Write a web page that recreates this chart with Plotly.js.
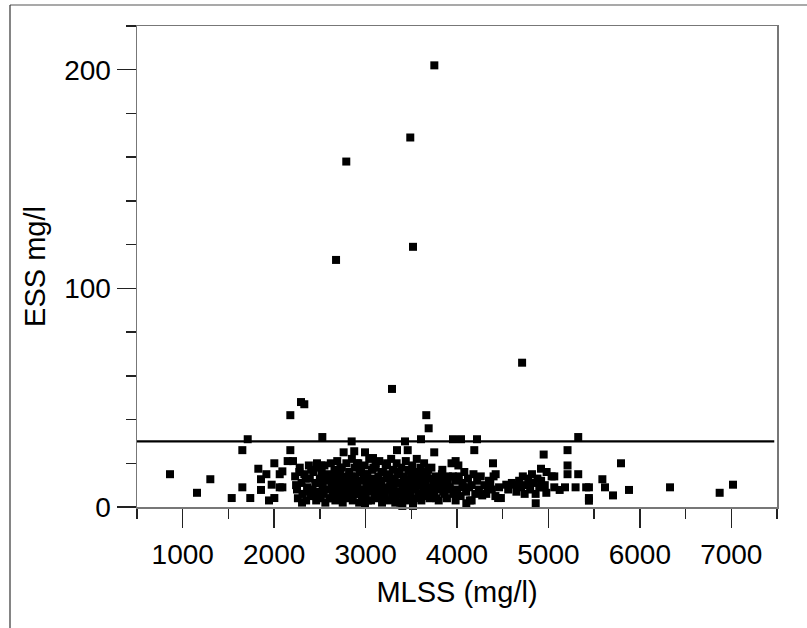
<!DOCTYPE html>
<html>
<head>
<meta charset="utf-8">
<script src="https://cdn.plot.ly/plotly-3.0.1.min.js"></script>
<style>
  html, body { margin: 0; padding: 0; background: #fff; }
  #chart { width: 807px; height: 628px; }
</style>
</head>
<body>
<div id="chart"></div>
<script>
// MLSS (mg/l) values
const mlss = [
  3752, 3489, 2789, 3519, 2677, 4712, 3289, 2294, 2330, 2177, 3664, 3690,
  5326, 2527, 1711, 3606, 3956, 4044, 4219, 3431, 2848, 1652, 2177, 3344,
  3461, 4189, 5209, 2760, 2876, 2994, 3751, 4948, 3081, 2148, 2206, 4015,
  3985, 2002, 2469, 2906, 3110, 4394, 5794, 1827, 2090, 4919, 5209, 4423,
  5326, 5209, 861, 1915, 2061, 1302, 1856, 5590, 1973, 4539, 4627, 7019,
  1652, 2061, 2090, 4072, 4131, 4335, 5619, 5297, 5181, 5064, 4948, 5413,
  5443, 6330, 1856, 5881, 5123, 1156, 4977, 6873, 5706, 4276, 1536, 1739,
  2002, 4450, 4480, 5443, 1944, 4160, 5443, 2994, 4102, 4861, 3402, 3519,
  5064, 5035, 4364,
  // dense cluster
  2230, 2250, 2260, 2280, 2300, 2310, 2330, 2350, 2360, 2380, 2390, 2400,
  2420, 2430, 2450, 2460, 2470, 2490, 2500, 2510,
  2520, 2530, 2540, 2550, 2560, 2570, 2580, 2600, 2610, 2620, 2630, 2640,
  2650, 2660, 2670, 2680, 2690, 2700, 2710, 2720, 2730, 2740, 2750, 2760,
  2770, 2780, 2790, 2800,
  2810, 2820, 2830, 2840, 2850, 2860, 2870, 2880, 2890, 2900, 2910, 2920,
  2930, 2940, 2950, 2960, 2970, 2980, 2990, 3000, 3010, 3020, 3030, 3040,
  3050, 3060, 3070, 3080, 3090, 3100,
  3110, 3120, 3130, 3140, 3150, 3160, 3170, 3180, 3190, 3200, 3210, 3220,
  3230, 3240, 3250, 3260, 3270, 3280, 3290, 3300, 3310, 3320, 3330, 3340,
  3350, 3360, 3370, 3380, 3390, 3400,
  3410, 3420, 3430, 3440, 3450, 3460, 3470, 3480, 3490, 3500, 3510, 3520,
  3530, 3540, 3550, 3560, 3570, 3580, 3590, 3600, 3610, 3620, 3630, 3640,
  3650, 3660, 3670, 3680, 3690, 3700,
  3720, 3740, 3750, 3770, 3790, 3800, 3820, 3840, 3850, 3870, 3890, 3900,
  3920, 3940, 3960, 3980, 4000,
  4020, 4040, 4060, 4080, 4100, 4120, 4140, 4160, 4180, 4200, 4220, 4240,
  4260, 4300, 4320, 4350, 4380, 4400, 4420, 4460,
  4560, 4600, 4650, 4680, 4700, 4720, 4740, 4760, 4780, 4800, 4820, 4840,
  4860, 4880, 4900, 4920, 4960, 4980,
  // cluster, second pass
  2240, 2275, 2305, 2345, 2375, 2405, 2445, 2485, 2515,
  2545, 2575, 2605, 2635, 2665, 2695, 2725, 2755, 2785, 2815,
  2845, 2875, 2905, 2935, 2965, 2995, 3025, 3055, 3085, 3115,
  3145, 3175, 3205, 3235, 3265, 3295, 3325, 3355, 3385, 3415,
  3445, 3475, 3505, 3535, 3565, 3595, 3625, 3655, 3685, 3715,
  3745, 3775, 3805, 3835, 3865, 3895, 3925, 3955, 3985
];
// ESS (mg/l) values
const ess = [
  202, 169, 158, 119, 113, 66, 54, 48, 47, 42, 42, 36,
  32, 32, 31, 31, 31, 31, 31, 30, 30, 26, 26, 26,
  26, 26, 26, 25, 25.5, 25, 25, 24, 22.4, 21, 21, 19,
  21, 20, 20, 20, 20, 20, 20, 17.5, 16.3, 17.5, 19, 15,
  15, 15, 15, 15, 15, 12.7, 12.7, 12.7, 10.2, 10.2, 10.2, 10.2,
  9, 9, 9, 9, 9, 9, 9, 9, 9, 9, 9, 9,
  9, 9, 7.8, 7.8, 7.8, 6.5, 6.5, 6.5, 5.3, 5.3, 4.1, 4.1,
  4.1, 4.1, 4.1, 4.1, 3, 3, 2.9, 1.7, 1.7, 1.7, 0.5, 0.5,
  14, 14, 11.4,
  // dense cluster
  14, 8, 4, 18, 11, 6, 15, 3, 9, 19, 13, 5,
  8, 16, 11, 3, 18, 7, 13, 4,
  16, 10, 6, 19, 2, 12, 8, 15, 4, 20, 10, 6,
  13, 17, 3, 9, 21, 12, 5, 15, 8, 18, 2, 11,
  6, 14, 20, 9,
  4, 16, 12, 7, 22, 3, 10, 18, 14, 6, 9, 20,
  2, 12, 16, 5, 8, 13, 19, 4, 10, 15, 7, 22,
  11, 3, 17, 8, 13, 6,
  18, 10, 4, 14, 21, 7, 12, 2, 16, 9, 5, 19,
  13, 8, 3, 15, 11, 22, 6, 17, 9, 13, 4, 20,
  11, 7, 15, 2, 18, 10,
  5, 14, 8, 21, 12, 3, 17, 9, 6, 14, 19, 11,
  4, 16, 8, 22, 13, 6, 10, 18, 3, 14, 8, 20,
  11, 5, 16, 9, 13, 4,
  18, 10, 6, 14, 8, 3, 12, 17, 7, 10, 4, 14,
  9, 20, 6, 12, 8,
  14, 5, 11, 16, 7, 13, 3, 10, 15, 6, 12, 8,
  14, 10, 6, 12, 8, 14, 5, 9,
  8, 11, 7, 12, 9, 14, 6, 10, 13, 8, 15, 11,
  6, 13, 9, 12, 10, 16,
  // cluster, second pass
  10, 16, 2, 13, 7, 17, 5, 11, 19,
  8, 14, 4, 9, 16, 7, 18, 12, 5, 10,
  14, 6, 11, 17, 8, 15, 3, 12, 18, 7,
  11, 16, 5, 20, 9, 13, 2, 16, 6, 12,
  9, 4, 17, 8, 12, 15, 5, 11, 17, 7,
  13, 4, 10, 15, 6, 11, 8, 14, 3
];
const thresholdESS = 30;

const fontFam = '"Liberation Sans", Arial, Helvetica, sans-serif';

// plot area pixels (for frame shapes in paper coords)
const L = 137, R = 30, T = 26, B = 121, W = 807, H = 628;
const pw = W - L - R, ph = H - T - B;
const px = v => (v - L) / pw;
const py = v => (H - B - v) / ph;

const trace = {
  type: 'scatter',
  mode: 'markers',
  x: mlss,
  y: ess,
  cliponaxis: false,
  marker: { symbol: 'square', size: 8, color: '#000', line: { width: 0 } },
  hoverinfo: 'x+y'
};

const layout = {
  width: W, height: H,
  margin: { l: L, r: R, t: T, b: B, pad: 0 },
  paper_bgcolor: '#fff',
  plot_bgcolor: '#fff',
  showlegend: false,
  font: { family: fontFam, color: '#000', size: 28 },
  xaxis: {
    range: [500, 7500],
    tick0: 0, dtick: 1000,
    ticks: 'outside', ticklen: 19, tickwidth: 1.5, tickcolor: '#222',
    minor: { dtick: 500, tick0: 0, ticks: 'outside', ticklen: 10, tickwidth: 1.5, tickcolor: '#222' },
    showline: true, linecolor: '#777', linewidth: 1.5, mirror: true,
    showgrid: false, zeroline: false,
    ticklabelstandoff: 3,
    tickfont: { family: fontFam, size: 28, color: '#000' },
    title: { text: 'MLSS (mg/l)', font: { family: fontFam, size: 29, color: '#000' }, standoff: 12 }
  },
  yaxis: {
    range: [0, 220],
    tick0: 0, dtick: 100,
    ticks: 'outside', ticklen: 19, tickwidth: 1.5, tickcolor: '#222',
    minor: { dtick: 20, tick0: 0, ticks: 'outside', ticklen: 10, tickwidth: 1.5, tickcolor: '#222' },
    showline: true, linecolor: '#777', linewidth: 1.5, mirror: true,
    showgrid: false, zeroline: false,
    tickfont: { family: fontFam, size: 28, color: '#000' },
    title: { text: 'ESS mg/l', font: { family: fontFam, size: 29, color: '#000' }, standoff: 10 }
  },
  shapes: [
    { type: 'line', xref: 'x', yref: 'y', x0: 500, x1: 7470, y0: thresholdESS, y1: thresholdESS,
      line: { color: '#000', width: 2.2 } },
    { type: 'line', xref: 'paper', yref: 'paper', x0: px(10), x1: px(807), y0: py(5), y1: py(5),
      line: { color: '#555', width: 1.2 } },
    { type: 'line', xref: 'paper', yref: 'paper', x0: px(10), x1: px(10), y0: py(5), y1: py(628),
      line: { color: '#333', width: 1.2 } }
  ]
};

Plotly.newPlot('chart', [trace], layout, { displayModeBar: false, staticPlot: true });
</script>
</body>
</html>
